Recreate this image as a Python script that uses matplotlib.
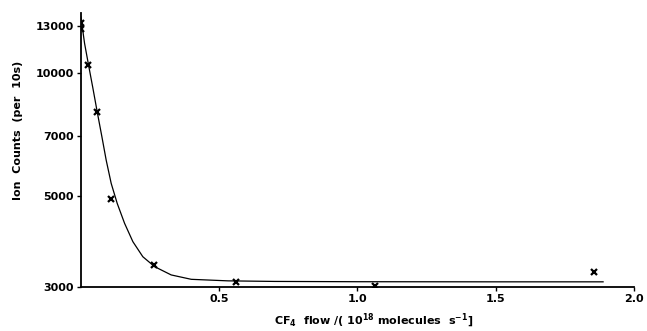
import matplotlib
matplotlib.use("Agg")
import matplotlib.pyplot as plt
from matplotlib.ticker import FixedLocator, NullLocator, FixedFormatter

# measured points (CF4 flow, ion counts per 10 s)
flow = [0.0, 0.0, 0.025, 0.059, 0.110, 0.264, 0.562, 1.065, 1.855]
counts = [13200, 12800, 10440, 8030, 4910, 3395, 3085, 3010, 3265]

# fitted curve
fit_flow = [0.0, 0.0134, 0.0278, 0.0434, 0.059, 0.076, 0.0915, 0.1096, 0.1313,
            0.158, 0.188, 0.224, 0.2666, 0.3266, 0.399, 0.532, 0.7, 1.0, 1.5, 1.888]
fit_counts = [13690, 11790, 10440, 9175, 8030, 6980, 6120, 5370, 4800,
              4290, 3870, 3556, 3363, 3210, 3132, 3105, 3095, 3090, 3088, 3088]

yticks = [3000, 5000, 7000, 10000, 13000]
xticks = [0.5, 1.0, 1.5, 2.0]

plt.rcParams['font.family'] = 'DejaVu Sans'
plt.rcParams['font.weight'] = 'bold'

fig = plt.figure(figsize=(6.47, 3.31), dpi=100)
ax = fig.add_axes([0.125, 0.133, 0.855, 0.828])

ax.plot(fit_flow, fit_counts, color='black', lw=0.9)
ax.plot(flow, counts, 'x', color='black', ms=5, mew=1.6)

ax.set_yscale('log')
ax.set_xlim(0, 2.0)
ax.set_ylim(3000, 14000)

ax.yaxis.set_major_locator(FixedLocator(yticks))
ax.yaxis.set_major_formatter(FixedFormatter([str(v) for v in yticks]))
ax.yaxis.set_minor_locator(NullLocator())
ax.xaxis.set_major_locator(FixedLocator(xticks))
ax.xaxis.set_major_formatter(FixedFormatter([f"{v:.1f}" for v in xticks]))

for s in ['top', 'right']:
    ax.spines[s].set_visible(False)
for s in ['left', 'bottom']:
    ax.spines[s].set_linewidth(1.3)

ax.tick_params(direction='out', length=3, width=1, labelsize=8, pad=2)
for lab in ax.get_xticklabels() + ax.get_yticklabels():
    lab.set_fontweight('bold')

ax.set_xlabel(r"CF$_4$  flow /( 10$^{18}$ molecules  s$^{-1}$]", fontsize=8, fontweight='bold')
ax.xaxis.set_label_coords(0.53, -0.09)
ax.set_ylabel("Ion  Counts  (per  10s)", fontsize=8, fontweight='bold')
ax.yaxis.set_label_coords(-0.105, 0.57)

fig.savefig("out.png", dpi=100)
